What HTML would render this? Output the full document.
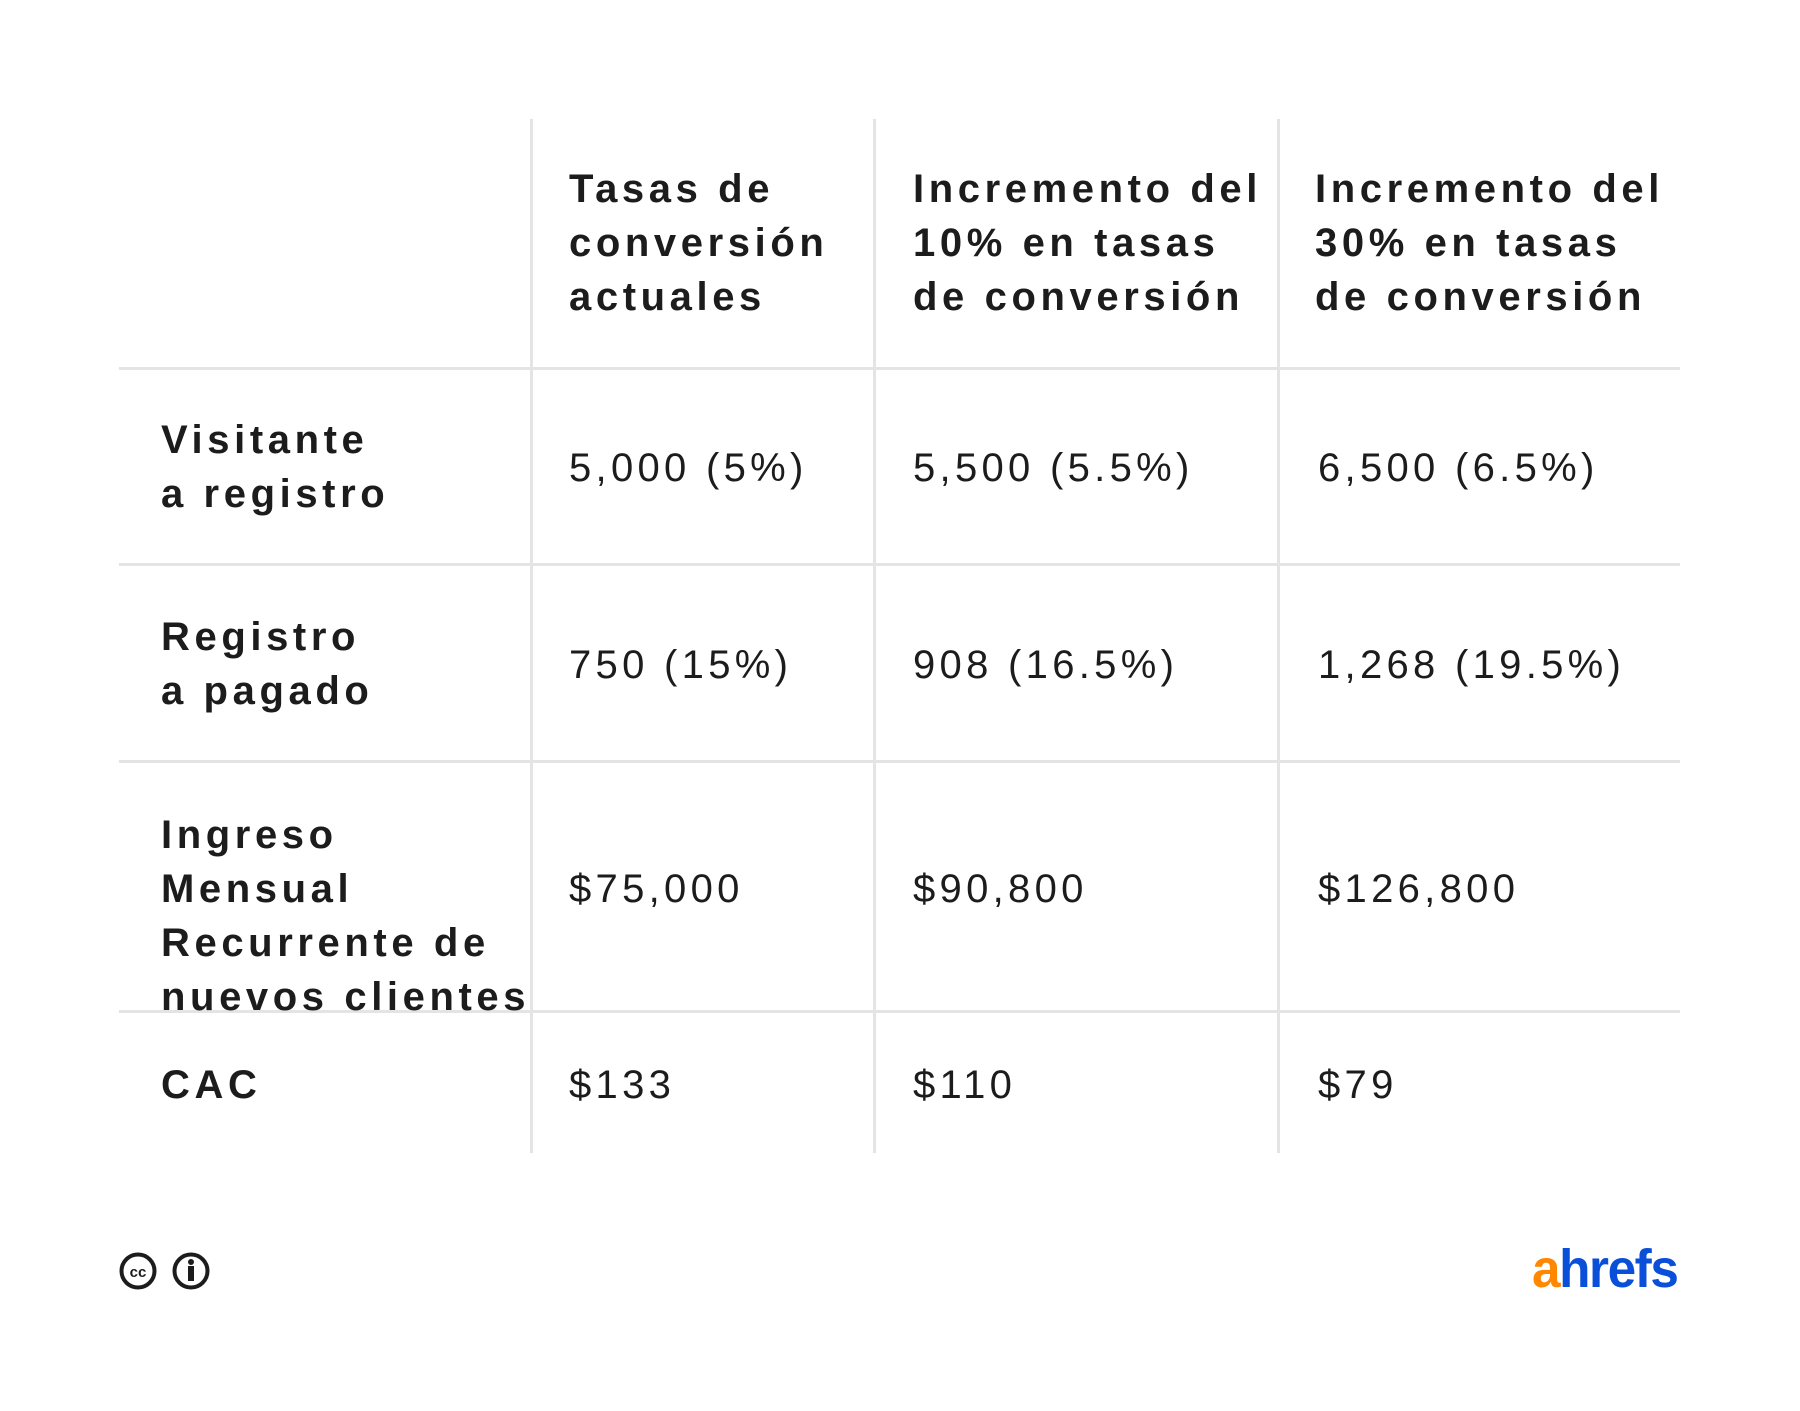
<!DOCTYPE html>
<html><head><meta charset="utf-8"><style>
html,body{margin:0;padding:0;background:#fff;}
body{width:1800px;height:1411px;position:relative;overflow:hidden;font-family:"Liberation Sans",sans-serif;color:#1c1c1c;}
.h{position:absolute;height:3px;background:#e4e4e4;left:119px;width:1561px;}
.v{position:absolute;width:3px;background:#e4e4e4;top:119px;height:1034px;}
.t{position:absolute;font-size:40px;line-height:54px;letter-spacing:4.3px;white-space:nowrap;}
.b{font-weight:bold;letter-spacing:4.6px;}
.c{transform:translateY(-50%);}
</style></head><body>
<div class="v" style="left:530px"></div>
<div class="v" style="left:873px"></div>
<div class="v" style="left:1277px"></div>
<div class="h" style="top:367px"></div>
<div class="h" style="top:563px"></div>
<div class="h" style="top:760px"></div>
<div class="h" style="top:1010px"></div>

<div class="t b" style="left:569px;top:162px">Tasas de<br>conversión<br>actuales</div>
<div class="t b" style="left:913px;top:162px">Incremento del<br>10% en tasas<br>de conversión</div>
<div class="t b" style="left:1315px;top:162px">Incremento del<br>30% en tasas<br>de conversión</div>

<div class="t b c" style="left:161px;top:467px">Visitante<br>a registro</div>
<div class="t c" style="left:569px;top:468px">5,000 (5%)</div>
<div class="t c" style="left:913px;top:468px">5,500 (5.5%)</div>
<div class="t c" style="left:1318px;top:468px">6,500 (6.5%)</div>

<div class="t b c" style="left:161px;top:664px">Registro<br>a pagado</div>
<div class="t c" style="left:569px;top:665px">750 (15%)</div>
<div class="t c" style="left:913px;top:665px">908 (16.5%)</div>
<div class="t c" style="left:1318px;top:665px">1,268 (19.5%)</div>

<div class="t b c" style="left:161px;top:916px">Ingreso<br>Mensual<br>Recurrente de<br>nuevos clientes</div>
<div class="t c" style="left:569px;top:889px">$75,000</div>
<div class="t c" style="left:913px;top:889px">$90,800</div>
<div class="t c" style="left:1318px;top:889px">$126,800</div>

<div class="t b c" style="left:161px;top:1085px">CAC</div>
<div class="t c" style="left:569px;top:1085px">$133</div>
<div class="t c" style="left:913px;top:1085px">$110</div>
<div class="t c" style="left:1318px;top:1085px">$79</div>

<svg style="position:absolute;left:119px;top:1251px" width="95" height="40" viewBox="0 0 95 40">
<circle cx="19" cy="20" r="16.5" fill="none" stroke="#1c1c1c" stroke-width="4"/>
<text x="19" y="26" font-family="Liberation Sans" font-weight="bold" font-size="15" text-anchor="middle" fill="#1c1c1c">cc</text>
<circle cx="72" cy="20" r="16.5" fill="none" stroke="#1c1c1c" stroke-width="4"/>
<circle cx="72" cy="11" r="3" fill="#1c1c1c"/>
<rect x="69" y="15" width="6" height="15" fill="#1c1c1c"/>
</svg>
<div style="position:absolute;left:1532px;top:1240px;font-size:54px;font-weight:bold;letter-spacing:-1.5px;line-height:58px;transform:scaleX(0.95);transform-origin:left;"><span style="color:#ff8800">a</span><span style="color:#0a4fd9">hrefs</span></div>
</body></html>
